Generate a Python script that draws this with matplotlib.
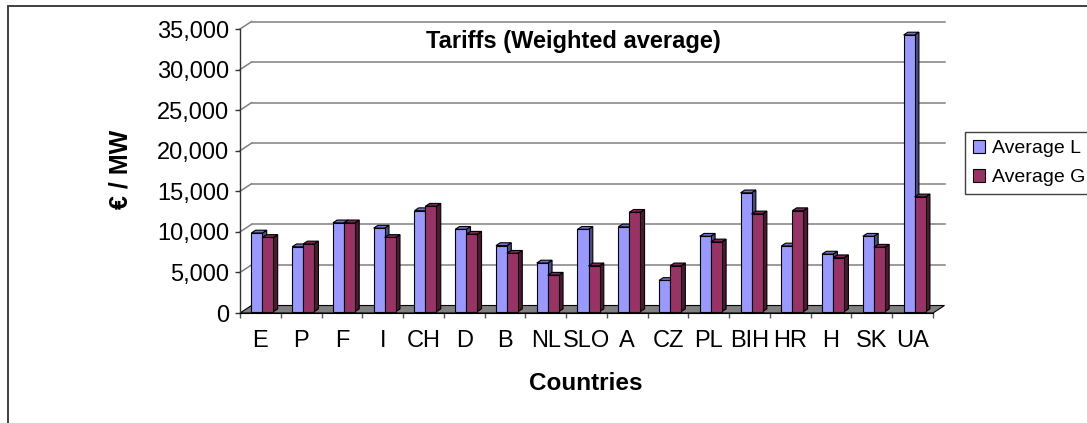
import matplotlib
matplotlib.use('Agg')
import matplotlib.pyplot as plt
import matplotlib as mpl
from matplotlib.patches import Polygon, Rectangle
from matplotlib.ticker import MultipleLocator, FuncFormatter, FixedLocator

mpl.rcParams['font.family'] = 'Liberation Sans'
mpl.rcParams['font.size'] = 16

# Data
countries = ['E', 'P', 'F', 'I', 'CH', 'D', 'B', 'NL', 'SLO', 'A', 'CZ', 'PL',
             'BIH', 'HR', 'H', 'SK', 'UA']
avg_L = [9700, 8000, 10950, 10300, 12450, 10150, 8150, 6000, 10150, 10450,
         3850, 9300, 14650, 8100, 7100, 9300, 34100]
avg_G = [9150, 8350, 10950, 9150, 13000, 9550, 7200, 4500, 5650, 12250,
         5650, 8600, 12050, 12450, 6650, 7950, 14150]
series_names = ['Average L', 'Average G']

# Colors: front, top, side
colors_L = ('#9999FF', '#7373C6', '#4C4C85')
colors_G = ('#993366', '#7A2952', '#4C1933')

W, H = 1087, 423
fig = plt.figure(figsize=(W / 100, H / 100), dpi=100)

# plot area (front plane) in pixels
x0_px, x1_px, y0_px, ytop_px = 240, 933, 313, 29
ax = fig.add_axes([x0_px / W, 1 - y0_px / H, (x1_px - x0_px) / W, (y0_px - ytop_px) / H])

n = len(countries)
ymax = 35000
ax.set_xlim(0, n)
ax.set_ylim(0, ymax)

# pixel -> data conversion
ppx = (x1_px - x0_px) / n          # px per category
ppy = (y0_px - ytop_px) / ymax     # px per value unit
DX, DY = 11.5 / ppx, 7.5 / ppy     # full depth of the floor
BX, BY = 2.0 / ppx, 1.3 / ppy      # bar front plane offset
SX, SY = 4.3 / ppx, 2.8 / ppy      # bar depth
bw = 0.27

grid_c = '#808080'

# floor
floor = Polygon([(0, 0), (n, 0), (n + DX, DY), (DX, DY)], closed=True,
                facecolor='#808080', edgecolor='black', lw=0.8, clip_on=False, zorder=1)
ax.add_patch(floor)

# back wall gridlines + side wall diagonals
for v in range(5000, ymax + 1, 5000):
    ax.plot([DX, n + DX], [v + DY, v + DY], color=grid_c, lw=1.1, clip_on=False, zorder=0.5)
    ax.plot([0, DX], [v, v + DY], color=grid_c, lw=1.1, clip_on=False, zorder=0.5)


def draw_bar(xl, val, cols, z):
    front, top, side = cols
    xr = xl + bw
    yb, yt = BY, BY + val
    ax.add_patch(Polygon([(xr, yb), (xr + SX, yb + SY), (xr + SX, yt + SY), (xr, yt)],
                         closed=True, facecolor=side, edgecolor='black', lw=0.8,
                         clip_on=False, zorder=z))
    ax.add_patch(Polygon([(xl, yt), (xr, yt), (xr + SX, yt + SY), (xl + SX, yt + SY)],
                         closed=True, facecolor=top, edgecolor='black', lw=0.8,
                         clip_on=False, zorder=z))
    ax.bar(xl, val, width=bw, bottom=yb, align='edge', color=front,
           edgecolor='black', lw=0.8, clip_on=False, zorder=z + 0.1)


for i in range(n):
    draw_bar(i + 0.5 - bw + BX, avg_L[i], colors_L, 2 + i * 0.5)
    draw_bar(i + 0.5 + BX, avg_G[i], colors_G, 2.2 + i * 0.5)

# axes styling
for s in ['top', 'right']:
    ax.spines[s].set_visible(False)
ax.spines['left'].set_color('#333333')
ax.spines['left'].set_linewidth(1.0)
ax.spines['bottom'].set_color('black')
ax.spines['bottom'].set_linewidth(0.8)
ax.patch.set_visible(False)

ax.yaxis.set_major_locator(MultipleLocator(5000))
ax.yaxis.set_major_formatter(FuncFormatter(lambda v, p: f'{int(v):,}'))
ax.tick_params(axis='y', length=3.3, width=1, color='#333333', pad=4.5, labelsize=17)

ax.xaxis.set_major_locator(FixedLocator(range(n + 1)))
ax.xaxis.set_minor_locator(FixedLocator([i + 0.5 for i in range(n)]))
ax.set_xticklabels([])
ax.set_xticklabels(countries, minor=True)
ax.tick_params(axis='x', which='major', length=3.3, width=1, color='#555555')
ax.tick_params(axis='x', which='minor', length=0, pad=12, labelsize=17)

# texts
fig.text(573 / W, 1 - 48 / H, 'Tariffs (Weighted average)', ha='center', va='baseline',
         fontsize=17, fontweight='bold')
fig.text(586 / W, 1 - 390.5 / H, 'Countries', ha='center', va='baseline',
         fontsize=17.5, fontweight='bold')
fig.text(120 / W, 1 - 169 / H, '€ / MW', ha='center', va='center', rotation=90,
         fontsize=18, fontweight='bold')

# legend
handles = [Rectangle((0, 0), 1, 1, facecolor=colors_L[0], edgecolor='black', lw=0.8),
           Rectangle((0, 0), 1, 1, facecolor=colors_G[0], edgecolor='black', lw=0.8)]
leg = fig.legend(handles, series_names, loc='upper left',
                 bbox_to_anchor=(965 / W, 1 - 132 / H), borderaxespad=0,
                 fontsize=14, handlelength=0.65, handleheight=0.65, handletextpad=0.35,
                 labelspacing=0.6, borderpad=0.4, fancybox=False, framealpha=1)
leg.get_frame().set_edgecolor('#404040')
leg.get_frame().set_linewidth(1.0)

# outer chart border (only top and left visible)
fig.add_artist(Rectangle((8 / W, -0.1), 1.2, 1.1 - 6 / H, transform=fig.transFigure,
                         fill=False, edgecolor='#404040', lw=1.4))

fig.savefig('out.png', dpi=100)
